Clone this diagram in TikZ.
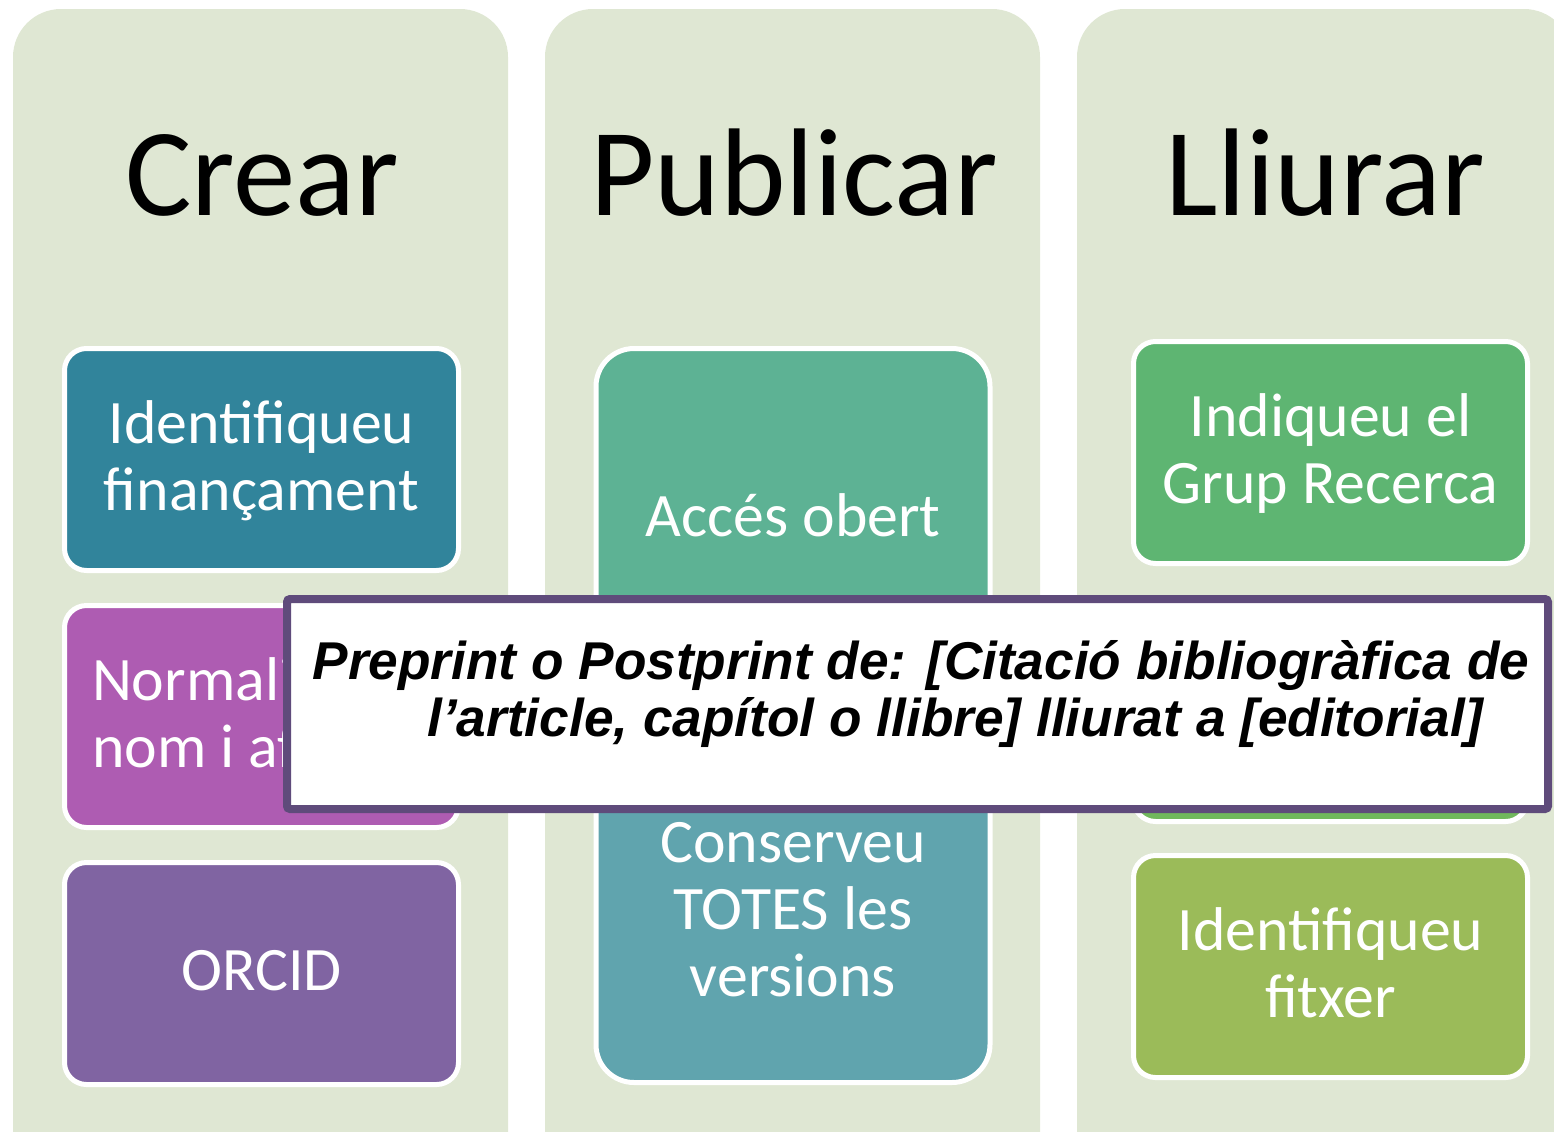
\documentclass[tikz,border=0pt]{standalone}
\usepackage{fontspec}
\setmainfont{Carlito}
\newfontfamily\citafont{Liberation Sans}
\definecolor{colbg}{HTML}{DFE7D3}
\definecolor{blauA}{HTML}{31849B}
\definecolor{lilaB}{HTML}{AE5CB2}
\definecolor{liláC}{HTML}{8064A2}
\definecolor{verdD}{HTML}{5DB294}
\definecolor{blauE}{HTML}{60A4AE}
\definecolor{verdF}{HTML}{5EB572}
\definecolor{verdG}{HTML}{70B85C}
\definecolor{verdH}{HTML}{9BBB59}
\definecolor{marcvora}{HTML}{5F4B7B}
\newcommand\puntal{\rule[-0.24\baselineskip]{0pt}{\baselineskip}}

\begin{document}
\begin{tikzpicture}[x=0.5pt,y=-0.5pt]
\tikzstyle{columna}=[fill=colbg,rounded corners=24pt]
\tikzstyle{titol}=[font=\fontsize{62.4}{70}\selectfont,anchor=base]
\tikzstyle{caixa}=[draw=white,line width=2.5pt,rounded corners=11pt,text=white,font=\fontsize{30.9}{33.5}\selectfont,align=center,inner sep=0pt,minimum width=197pt,minimum height=111pt]
\tikzstyle{caixaalta}=[caixa,rounded corners=19pt]
\tikzstyle{marc}=[draw=marcvora,line width=4pt,fill=white,rounded corners=1.5pt,inner sep=0pt,minimum width=630.5pt,minimum height=105pt]
\tikzstyle{cita}=[font=\citafont\bfseries\itshape\fontsize{26.6}{27.5}\selectfont,align=center,inner sep=0pt]
\useasboundingbox (0,0) rectangle (1554,1131);
\clip (0,0) rectangle (1554,1131);
\fill[columna] (13,9) rectangle (508,1250);
\fill[columna] (545,9) rectangle (1040,1250);
\fill[columna] (1077,9) rectangle (1572,1250);
\node[titol] (crear) at (262,215) {Crear};
\node[titol] (publicar) at (794,215) {Publicar};
\node[titol] (lliurar) at (1325,215) {Lliurar};
\node[caixa,fill=blauA] (financ) at (261.5,459.5) {\puntal Identifiqueu\\\puntal finançament};
\node[caixa,fill=lilaB,align=flush left,text width=169.5pt,inner xsep=13.75pt] (normal) at (261.5,716.5) {\puntal Normali\\\puntal nom i af};
\node[caixa,fill=liláC] (orcid) at (261.5,973.5) {\puntal ORCID};
\node[caixaalta,fill=verdD,minimum height=170.5pt] (acces) at (793,519) {\puntal Accés obert};
\node[caixaalta,fill=blauE,minimum height=170pt] (versions) at (793,912.5) {\puntal Conserveu\\\puntal TOTES les\\\puntal versions};
\node[caixa,fill=verdF] (grup) at (1330.5,452.5) {\puntal Indiqueu el\\\puntal Grup Recerca};
\node[caixa,fill=verdG] (lliura) at (1330.5,710.5) {};
\node[caixa,fill=verdH] (fitxer) at (1330.5,966.5) {\puntal Identifiqueu\\\puntal fitxer};
\node[marc] (avis) at (917.5,704) {};
\node[cita] (citacio) at (921,696.5) {\strut Preprint o Postprint de: [Citació bibliogràfica de\\\hspace*{34pt}\strut l’article, capítol o llibre] lliurat a [editorial]};
\end{tikzpicture}
\end{document}
